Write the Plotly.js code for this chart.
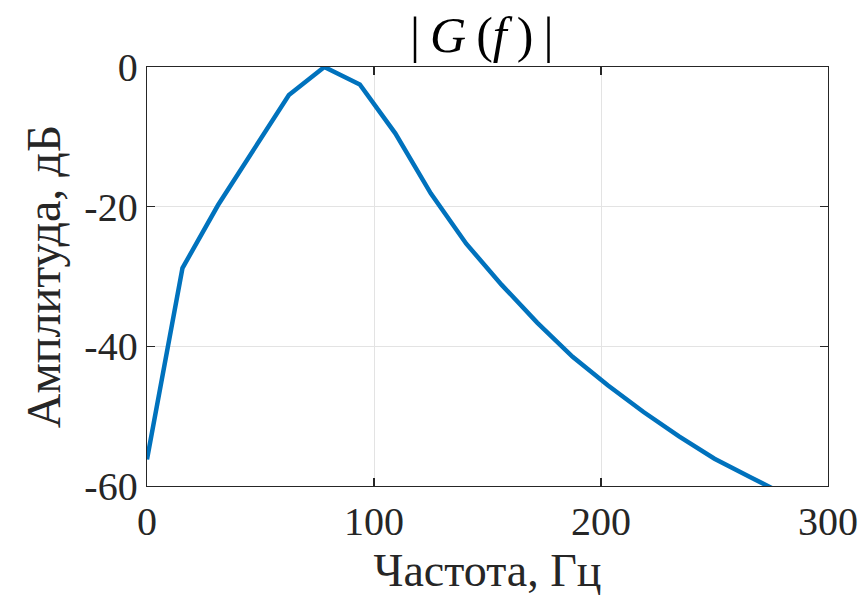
<!DOCTYPE html>
<html>
<head>
<meta charset="utf-8">
<script src="https://cdn.plot.ly/plotly-3.0.1.min.js"></script>
<style>html,body{margin:0;padding:0;background:#fff;}#chart{width:868px;height:606px;}</style>
</head>
<body>
<div id="chart"></div>
<script>
const freqHz = [0, 15.625, 31.25, 46.875, 62.5, 78.125, 93.75, 109.375, 125, 140.625, 156.25, 171.875, 187.5, 203.125, 218.75, 234.375, 250, 265.625, 281.25];
const amplitudeDb = [-56.2, -28.8, -19.8, -11.8, -4.0, 0.0, -2.5, -9.5, -18.1, -25.3, -31.2, -36.6, -41.5, -45.6, -49.4, -52.9, -56.1, -58.7, -61.3];
const xTickVals = [0, 100, 200, 300];
const xTickText = ["0", "100", "200", "300"];
const yTickVals = [-60, -40, -20, 0];
const yTickText = ["-60", "-40", "-20", "0"];
const titleText = "|\u2009<i>G</i>\u2009(<i>f</i>\u2009)\u2009|";
const xTitle = "Частота, Гц";
const yTitle = "Амплитуда, дБ";

const serif = "Liberation Serif, Times New Roman, serif";
const axisCommon = {
  showline: true, mirror: "ticks", linecolor: "#262626", linewidth: 1.3,
  ticks: "inside", ticklen: 8, tickwidth: 1.3, tickcolor: "#262626",
  showgrid: true, gridcolor: "#e3e3e3", gridwidth: 1, zeroline: false,
  tickfont: {family: serif, size: 40, color: "#262626"}
};

Plotly.newPlot("chart", [{
  x: freqHz, y: amplitudeDb, type: "scatter", mode: "lines",
  line: {color: "#0072BD", width: 4.5}
}], {
  width: 868, height: 606,
  margin: {l: 147, r: 40, t: 67, b: 120},
  paper_bgcolor: "#fff", plot_bgcolor: "#fff",
  showlegend: false,
  title: {text: titleText, font: {family: serif, size: 50, color: "#000"}, x: 0.555, xanchor: "center", y: 0.915, yanchor: "bottom"},
  xaxis: Object.assign({}, axisCommon, {
    range: [0, 300], tickvals: xTickVals, ticktext: xTickText,
    title: {text: xTitle, font: {family: serif, size: 46, color: "#262626"}, standoff: 10}
  }),
  yaxis: Object.assign({}, axisCommon, {
    range: [-60, 0], tickvals: yTickVals, ticktext: yTickText,
    title: {text: yTitle, font: {family: serif, size: 48, color: "#262626"}, standoff: 8}
  })
}, {displayModeBar: false, staticPlot: true});
</script>
</body>
</html>
